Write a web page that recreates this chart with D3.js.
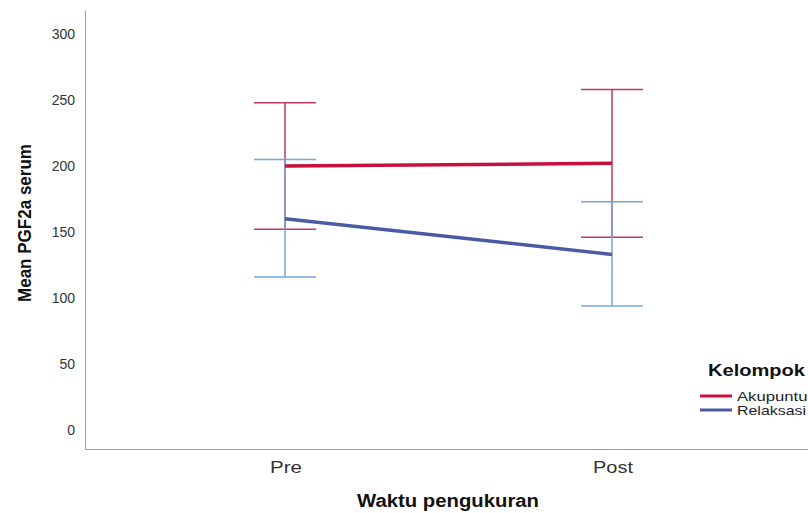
<!DOCTYPE html>
<html><head><meta charset="utf-8">
<script src="https://cdn.jsdelivr.net/npm/d3@7"></script>
<style>body{margin:0;background:#fff;} svg{display:block;font-family:"Liberation Sans",Arial,sans-serif;}</style>
</head><body>
<svg id="c" width="808" height="513"></svg>
<script>
const categories = ["Pre", "Post"];
const seriesNames = ["Akupuntur", "Relaksasi"];
const akupunturMean = [200, 202];
const akupunturLow = [152, 146];
const akupunturHigh = [248, 258];
const relaksasiMean = [160, 133];
const relaksasiLow = [116, 94];
const relaksasiHigh = [205, 173];
const yTicks = [0, 50, 100, 150, 200, 250, 300];

const series = [
  {name: seriesNames[0], mean: akupunturMean, low: akupunturLow, high: akupunturHigh, line: "#c8103c", err: "#c23a5a", tl: 76},
  {name: seriesNames[1], mean: relaksasiMean, low: relaksasiLow, high: relaksasiHigh, line: "#4a5ba6", err: "#78a4d8", tl: 69}
];

const svg = d3.select("#c");
const x = d3.scalePoint().domain(categories).range([285, 612]);
const y = d3.scaleLinear().domain([0, 300]).range([430, 34]);
const axisColor = "#a0a0a0";

// axes lines
svg.append("line").attr("x1", 85.5).attr("x2", 85.5).attr("y1", y(318)).attr("y2", 449.5).attr("stroke", axisColor).attr("stroke-width", 1);
svg.append("line").attr("x1", 85).attr("x2", 808).attr("y1", 449.5).attr("y2", 449.5).attr("stroke", axisColor).attr("stroke-width", 1);

// y tick labels
svg.append("g").selectAll("text").data(yTicks).join("text")
  .attr("x", 75).attr("y", d => y(d)).attr("dy", "0.35em").attr("text-anchor", "end")
  .attr("font-size", 14).attr("fill", "#333").text(d => d);

// x tick labels
const xTickLen = {Pre: 32, Post: 40};
svg.append("g").selectAll("text").data(categories).join("text")
  .attr("x", d => x(d) - xTickLen[d] / 2 + 1).attr("y", 473)
  .attr("textLength", d => xTickLen[d]).attr("lengthAdjust", "spacingAndGlyphs")
  .attr("font-size", 17).attr("fill", "#333").text(d => d);

// axis titles
svg.append("text").attr("transform", "translate(31,302) rotate(-90)")
  .attr("textLength", 158).attr("lengthAdjust", "spacingAndGlyphs")
  .attr("font-size", 18).attr("font-weight", "bold").attr("fill", "#111").text("Mean PGF2a serum");
svg.append("text").attr("x", 357).attr("y", 507)
  .attr("textLength", 182).attr("lengthAdjust", "spacingAndGlyphs")
  .attr("font-size", 18).attr("font-weight", "bold").attr("fill", "#111").text("Waktu pengukuran");

const capW = 31;
// error bars
series.forEach(s => {
  const g = svg.append("g");
  categories.forEach((c, i) => {
    g.append("line").attr("x1", x(c)).attr("x2", x(c)).attr("y1", y(s.low[i])).attr("y2", y(s.high[i])).attr("stroke", s.err).attr("stroke-width", 1.5);
    [s.low[i], s.high[i]].forEach(v => {
      g.append("line").attr("x1", x(c) - capW).attr("x2", x(c) + capW).attr("y1", y(v)).attr("y2", y(v)).attr("stroke", s.err).attr("stroke-width", 1.5);
    });
  });
});
// mean lines
series.forEach(s => {
  svg.append("path").datum(categories.map((c, i) => [x(c), y(s.mean[i])]))
    .attr("d", d3.line()).attr("fill", "none").attr("stroke", s.line).attr("stroke-width", 3.5);
});

// legend
svg.append("text").attr("x", 708).attr("y", 376)
  .attr("textLength", 97).attr("lengthAdjust", "spacingAndGlyphs")
  .attr("font-size", 17).attr("font-weight", "bold").attr("fill", "#111").text("Kelompok");
series.forEach((s, i) => {
  const yy = 396 + i * 14;
  svg.append("line").attr("x1", 700).attr("x2", 732).attr("y1", yy).attr("y2", yy).attr("stroke", s.line).attr("stroke-width", 3);
  svg.append("text").attr("x", 737).attr("y", yy).attr("dy", "0.35em")
    .attr("textLength", s.tl).attr("lengthAdjust", "spacingAndGlyphs")
    .attr("font-size", 13).attr("fill", "#222").text(s.name);
});
</script>
</body></html>
